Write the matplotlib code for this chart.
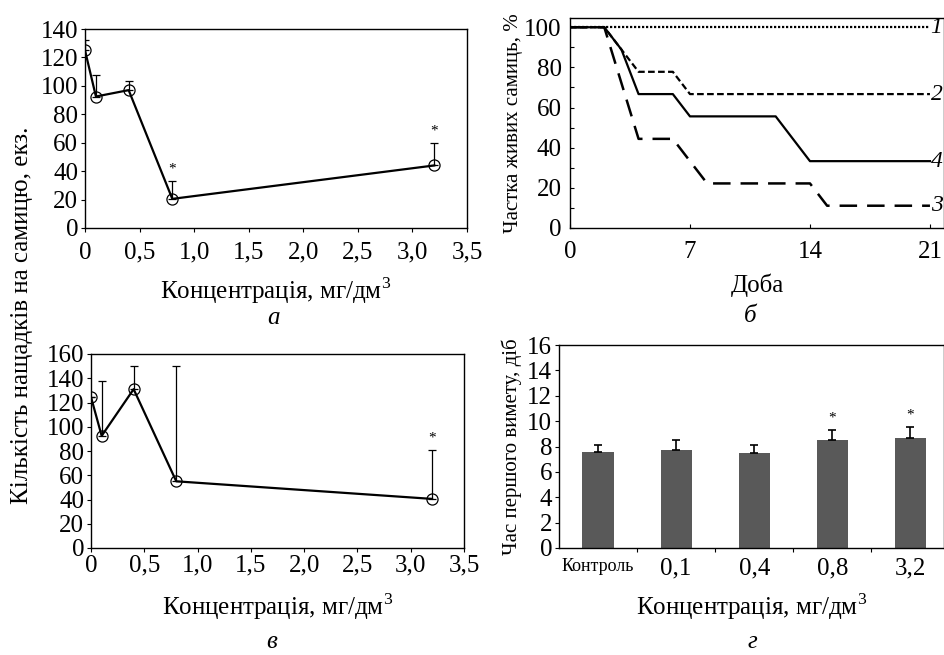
import numpy as np
import matplotlib
matplotlib.use('Agg')
import matplotlib.pyplot as plt
from matplotlib.ticker import MultipleLocator, FixedLocator

matplotlib.rc('font', family='Liberation Serif', size=17)
matplotlib.rc('axes', linewidth=1.0)
matplotlib.rc('mathtext', fontset='custom', rm='Liberation Serif')

# data
conc = [0, 0.1, 0.4, 0.8, 3.2]
offspring_a = [125, 92.5, 97, 20.5, 44]
err_a = [7, 15, 6.5, 12.5, 16]
star_a = [False, False, False, True, True]

offspring_v = [124.5, 92.5, 131, 55, 40.5]
err_v = [0, 45, 19, 95, 40]
star_v = [False, False, False, False, True]

days = [0, 2, 3, 4, 6, 7, 8, 12, 14, 15, 21]
surv1 = [100, 100, 100, 100, 100, 100, 100, 100, 100, 100, 100]
surv2 = [100, 100, 88.9, 77.8, 77.8, 66.7, 66.7, 66.7, 66.7, 66.7, 66.7]
surv4 = [100, 100, 88.9, 66.7, 66.7, 55.6, 55.6, 55.6, 33.3, 33.3, 33.3]
surv3 = [100, 100, 72.2, 44.4, 44.4, 33.3, 22.2, 22.2, 22.2, 11.1, 11.1]

groups = ['Контроль', '0,1', '0,4', '0,8', '3,2']
first_time = [7.55, 7.75, 7.5, 8.55, 8.65]
first_err = [0.55, 0.75, 0.6, 0.75, 0.9]
star_g = [False, False, False, True, True]

xlab = 'Концентрація, мг/дм$^\\mathrm{3}$'

fig = plt.figure(figsize=(9.44, 6.55), dpi=100)
W, H = 944.0, 655.0

def box(l, t, r, b):
    return [l / W, 1 - b / H, (r - l) / W, (b - t) / H]

def conc_panel(ax, y, err, stars, ymax, ystep, xpad):
    ax.errorbar(conc, y, yerr=[np.zeros(len(err)), err], fmt='none',
                ecolor='black', elinewidth=0.9, capsize=3, capthick=0.9)
    ax.plot(conc, y, color='black', lw=1.6, marker='o', ms=8,
            mfc='none', mec='black', mew=0.9)
    for xi, yi, ei, s in zip(conc, y, err, stars):
        if s:
            ax.annotate('*', (xi, yi + ei), xytext=(0, 4), textcoords='offset points',
                        ha='center', va='bottom', fontsize=11)
    ax.set_xlim(0, 3.5)
    ax.set_ylim(0, ymax)
    ax.xaxis.set_major_locator(MultipleLocator(0.5))
    ax.yaxis.set_major_locator(MultipleLocator(ystep))
    ax.xaxis.set_major_formatter(plt.FuncFormatter(
        lambda v, p: '0' if v == 0 else ('%.1f' % v).replace('.', ',')))
    ax.tick_params(direction='out', length=3, width=0.8, labelsize=18, pad=2)
    ax.tick_params(axis='x', pad=xpad)

# panel a
ax1 = fig.add_axes(box(85, 29, 467, 228))
conc_panel(ax1, offspring_a, err_a, star_a, 140, 20, 7)
ax1.set_xlabel(xlab, fontsize=18, labelpad=8)

# panel в
ax3 = fig.add_axes(box(91, 354, 464, 548))
conc_panel(ax3, offspring_v, err_v, star_v, 160, 20, 2)
ax3.set_xlabel(xlab, fontsize=18, labelpad=10)

fig.text(22 / W, 1 - 315 / H, 'Кількість нащадків на самицю, екз.', rotation=90,
         ha='center', va='center', fontsize=18)

# panel б
ax2 = fig.add_axes(box(570, 18, 944, 228))
ax2.plot(days, surv1, color='black', lw=1.6, ls=(0, (1, 0.8)))
ax2.plot(days, surv2, color='black', lw=1.6, ls=(0, (3, 1.5)))
ax2.plot(days, surv4, color='black', lw=1.6, ls='-')
ax2.plot(days, surv3, color='black', lw=1.8, ls=(0, (7, 4)))
for yy, lab in zip([surv1[-1], surv2[-1], surv4[-1], surv3[-1]], ['1', '2', '4', '3']):
    ax2.annotate(lab, (days[-1], yy), xytext=(0.5, 0), textcoords='offset points',
                 ha='left', va='center', style='italic', fontsize=17)
ax2.set_xlim(0, 21.82)
ax2.set_ylim(0, 104.6)
ax2.set_xticks([0, 7, 14, 21])
ax2.yaxis.set_major_locator(MultipleLocator(20))
ax2.yaxis.set_minor_locator(MultipleLocator(10))
ax2.tick_params(which='both', direction='in', length=3, width=0.8, labelsize=18, pad=6)
ax2.tick_params(axis='x', pad=9)
ax2.set_xlabel('Доба', fontsize=18, labelpad=8)
ax2.set_ylabel('Частка живих самиць, %', fontsize=15, labelpad=1)

# panel г
ax4 = fig.add_axes(box(559, 345, 944, 548))
xpos = np.arange(len(groups))
ax4.bar(xpos, first_time, width=0.4, color='#595959')
ax4.errorbar(xpos, first_time, yerr=[np.zeros(len(first_err)), first_err], fmt='none',
             ecolor='black', elinewidth=1.2, capsize=3, capthick=1.2)
for xi, yi, ei, s in zip(xpos, first_time, first_err, star_g):
    if s:
        ax4.annotate('*', (xi, yi + ei), xytext=(0, 4), textcoords='offset points',
                     ha='center', va='bottom', fontsize=11)
ax4.set_xlim(-0.5, 4.43)
ax4.set_ylim(0, 16)
ax4.yaxis.set_major_locator(MultipleLocator(2))
ax4.set_xticks(xpos)
ax4.set_xticklabels(groups)
ax4.xaxis.set_minor_locator(FixedLocator(xpos[:-1] + 0.5))
ax4.tick_params(axis='x', which='major', length=0, labelsize=18, pad=7)
ax4.tick_params(axis='x', which='minor', direction='out', length=3, width=0.8)
ax4.tick_params(axis='y', direction='out', length=3, width=0.8, labelsize=18, pad=2)
ax4.get_xticklabels()[0].set_fontsize(13)
ax4.set_xlabel(xlab, fontsize=18, labelpad=8)
ax4.set_ylabel('Час першого вимету, діб', fontsize=15, labelpad=4)

# panel letters
for x, y, s in [(273, 318, 'а'), (750, 316, 'б'), (272, 642, 'в'), (752, 642, 'г')]:
    fig.text(x / W, 1 - y / H, s, ha='center', va='center', style='italic', fontsize=18)

fig.savefig('out.png', dpi=100)
